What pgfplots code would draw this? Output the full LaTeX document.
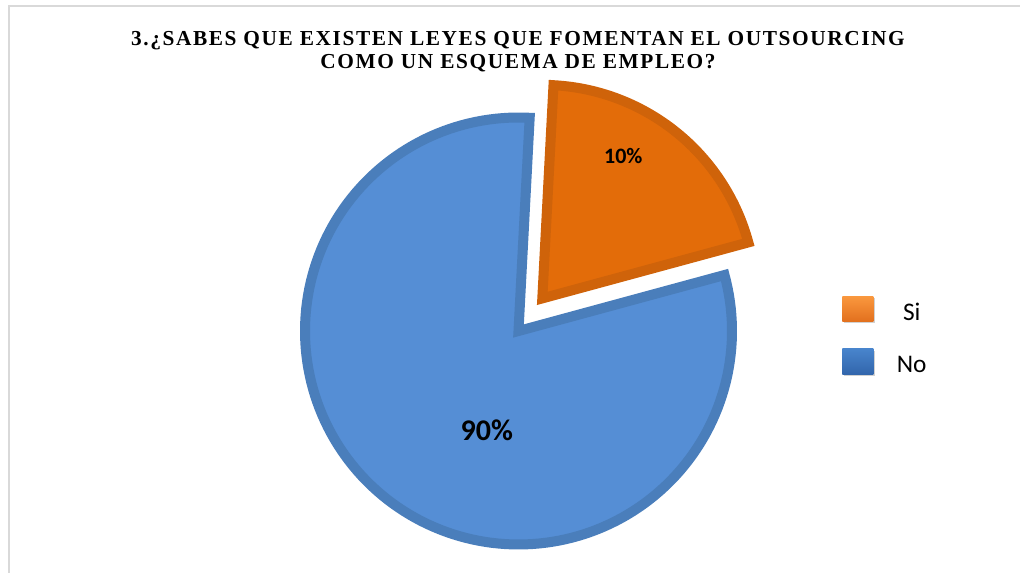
\documentclass[border=0pt]{standalone}
\usepackage{pgfplots}
\pgfplotsset{compat=1.18}
\usepgfplotslibrary{polar}
\usepackage{fontspec}
\setmainfont{Liberation Serif}
\newfontfamily\titlefont[LetterSpace=7.5]{Liberation Serif}
\newfontfamily\calibri{Carlito}

\definecolor{noFill}{RGB}{85,142,213}
\definecolor{noLine}{RGB}{74,126,187}
\definecolor{siFill}{RGB}{227,108,9}
\definecolor{siLine}{RGB}{207,99,10}
\definecolor{frameGray}{RGB}{217,217,217}
\definecolor{legSiTop}{RGB}{250,152,62}
\definecolor{legSiBot}{RGB}{226,112,30}
\definecolor{legNoTop}{RGB}{72,132,204}
\definecolor{legNoBot}{RGB}{50,102,172}

% one pie drawn as two polar wedges; angles
% (the slices are drawn 20/80 although the labels say 10/90)
\pgfplotsset{
  pie/.style={hide axis, scale only axis, width=337.5pt, height=337.5pt,
    ymin=0, ymax=225, clip=false, anchor=center},
  wedge/.style={line width=7.5pt, line join=miter},
}

\begin{document}
\begin{tikzpicture}[x=0.75pt,y=0.75pt]
\useasboundingbox (0,0) rectangle (1020,573);
\draw[frameGray, line width=1.5pt] (9,0) -- (9,567) -- (1020,567);
\node[font=\titlefont\fontsize{16}{17.25}\selectfont\bfseries, align=center]
  at (518,521) {3.¿SABES QUE EXISTEN LEYES QUE FOMENTAN EL OUTSOURCING\\COMO UN ESQUEMA DE EMPLEO?};

% No
\begin{polaraxis}[pie, at={(518.5,242)}]
\addplot[wedge, draw=noLine, fill=noFill, domain=87:375.2, samples=160]
  {213.5} -- (axis cs:0,0) -- cycle;
\node[font=\calibri\bfseries\fontsize{22.5}{27}\selectfont] at (axis cs:252.3,104) {90\%};
\end{polaraxis}

% Si (pulled out)
\begin{polaraxis}[pie, at={(542.3,274.6)},
  legend style={at={(1.166,0.5053)}, anchor=north west, draw=none, fill=none,
    inner sep=0pt, nodes={inner sep=0pt}, row sep=19.5pt,
    font=\calibri\fontsize{19}{22}\selectfont,
    /tikz/every odd column/.append style={column sep=16.5pt}},
  legend cell align=center]
\addplot[wedge, draw=siLine, fill=siFill, domain=15.2:87, samples=60, forget plot]
  {213.5} -- (axis cs:0,0) -- cycle;
\node[font=\calibri\bfseries\fontsize{16.5}{20}\selectfont] at (axis cs:60.3,163.5) {10\%};
\addlegendimage{legend image code/.code={
  \fill[black!18, draw=none] (1.2pt,-7.6pt) rectangle (24.45pt,11.2pt);
  \shade[top color=legSiTop, bottom color=legSiBot, draw=none] (0pt,-6.4pt) rectangle (23.25pt,12.4pt);}}
\addlegendentry{Si}
\addlegendimage{legend image code/.code={
  \fill[black!18, draw=none] (1.2pt,-7.6pt) rectangle (24.45pt,11.2pt);
  \shade[top color=legNoTop, bottom color=legNoBot, draw=none] (0pt,-6.4pt) rectangle (23.25pt,12.4pt);}}
\addlegendentry{No}
\end{polaraxis}
\end{tikzpicture}
\end{document}
